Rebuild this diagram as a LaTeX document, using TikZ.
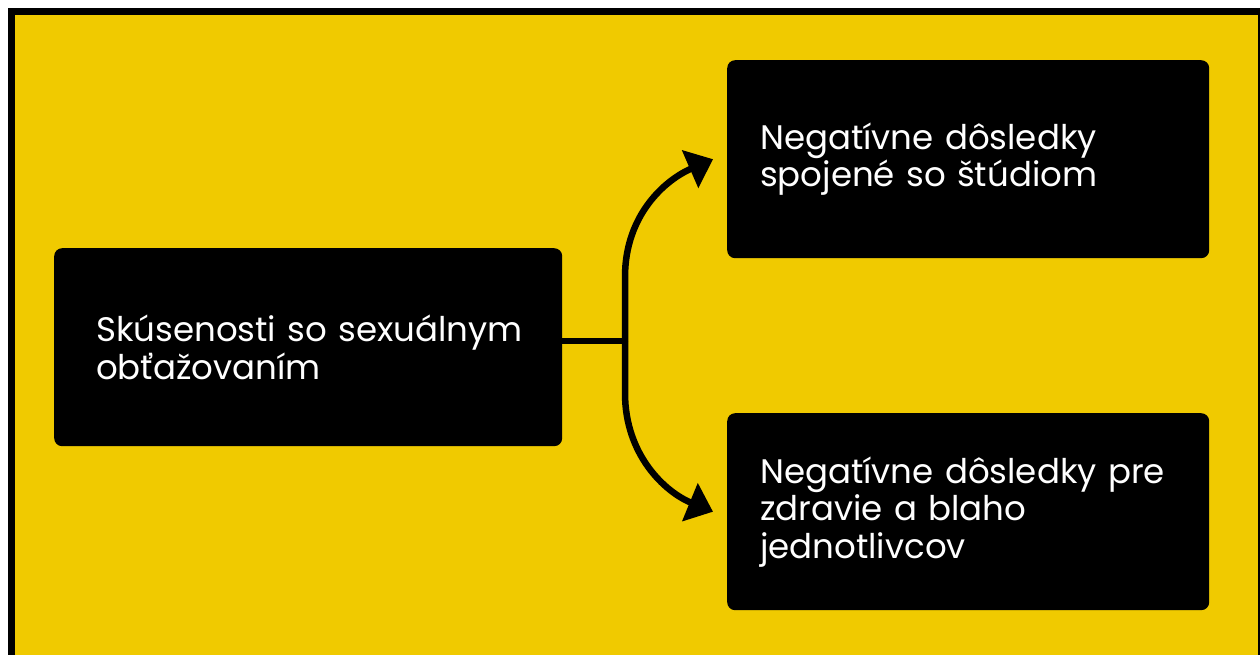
\documentclass[tikz,border=0pt]{standalone}
\usepackage{fontspec}
\setmainfont{Poppins}
\usetikzlibrary{arrows.meta}
\definecolor{bgyellow}{RGB}{240,202,0}
\begin{document}
\begin{tikzpicture}[x=1pt,y=-1pt,
  box/.style={fill=black, rounded corners=8pt, text=white, align=left,
    inner ysep=0pt, anchor=north west, font=\fontsize{34}{37.5}\selectfont},
  link/.style={line width=6.5pt, line cap=butt},
  arrowlink/.style={link, -{Triangle[length=25pt,width=40pt]}}]
\useasboundingbox (0,0) rectangle (1260,655);
\clip (0,0) rectangle (1260,655);
\fill[white] (0,0) rectangle (1260,655);
\fill[bgyellow] (15,15) rectangle (1258,655);
\draw[line width=7pt] (11.5,660) -- (11.5,11.5) -- (1261.5,11.5) -- (1261.5,660);

\node[box, minimum width=508pt, minimum height=198pt, inner xsep=42pt, text width=424pt]
  (left) at (54,248) {\mbox{Skúsenosti so sexuálnym}\\\mbox{obťažovaním}};
\node[box, minimum width=482pt, minimum height=198pt, inner xsep=33pt, text width=416pt]
  (top) at (727,60) {\mbox{Negatívne dôsledky}\\\mbox{spojené so štúdiom}};
\node[box, minimum width=482pt, minimum height=197pt, inner xsep=33pt, text width=416pt]
  (bot) at (727,413) {\mbox{Negatívne dôsledky pre}\\\mbox{zdravie a blaho}\\\mbox{jednotlivcov}};

\coordinate (j) at (625,341);
\draw[link] (left.east |- j) -- (j);
\draw[arrowlink] (j) -- (625,277) .. controls (625,215) and (665,180) .. ([xshift=-14pt]top.west);
\draw[arrowlink] (j) -- (625,393) .. controls (625,455) and (665,492) .. ([xshift=-14pt]bot.west);
\end{tikzpicture}
\end{document}
